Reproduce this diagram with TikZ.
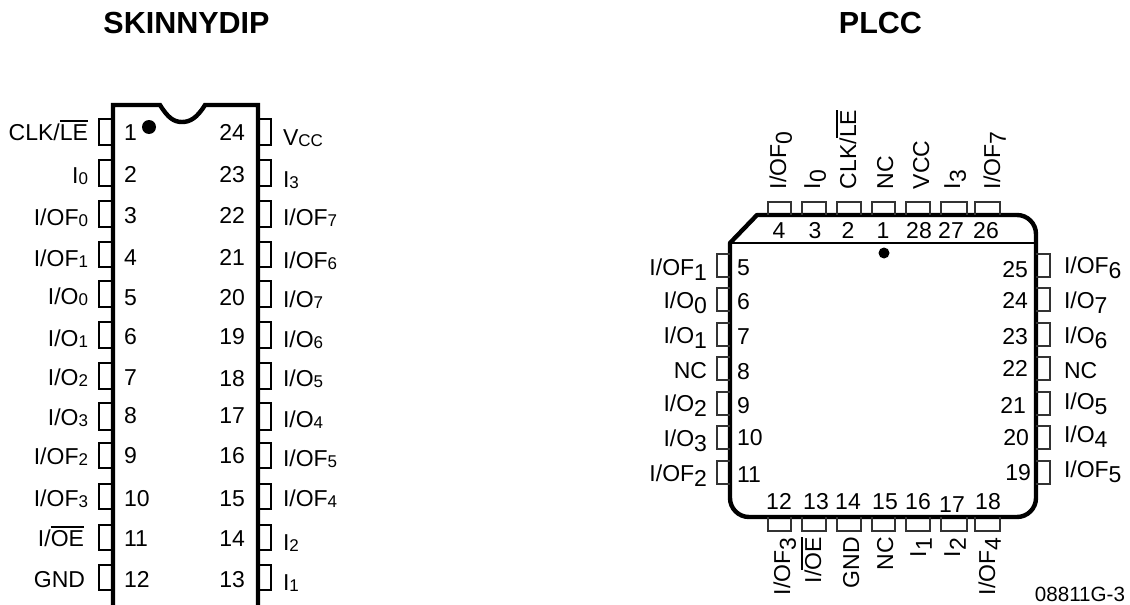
\documentclass[tikz,border=0pt]{standalone}
\usepackage{fontspec}
\setmainfont{Liberation Sans}
\newcommand{\ovl}[1]{\setbox0=\hbox{#1}\rlap{\rule[0.79em]{\wd0}{0.07em}}\box0}
\newcommand{\sba}[1]{\raisebox{-0.06em}{\fontsize{17}{20}\selectfont #1}}
\newcommand{\sbb}[1]{\raisebox{-0.25em}{\fontsize{23}{26}\selectfont #1}}
\tikzset{
  txt/.style={inner sep=0pt,outer sep=0pt,font=\fontsize{23}{27}\selectfont},
  title/.style={inner sep=0pt,outer sep=0pt,font=\bfseries\fontsize{30.5}{36}\selectfont},
  body/.style={line width=4.4pt,line join=miter},
  thinbody/.style={line width=1.6pt},
  pindip/.style={line width=2pt,draw=black},
  pin/.style={line width=1.2pt,draw=black!80}
}
\begin{document}
\begin{tikzpicture}[x=1pt,y=-1pt]
\useasboundingbox (0,0) rectangle (1130,605);
\node[title,anchor=base] (t1) at (186.5,34) {SKINNYDIP};
\node[title,anchor=base] (t2) at (880.5,34) {PLCC};
% DIP body
\draw[body] (113,605) -- (113,105) -- (160,105) .. controls (168,118) and (174,122) .. (182,122) .. controls (190,122) and (197,118) .. (205,105) -- (258,105) -- (258,605);
\fill (149,127) circle (7);
% DIP pins
\foreach \i/\a/\b in {1/119/145,2/160/186,3/201/227,4/242/267,5/281/307,6/322/348,7/363/389,8/403/430,9/443/468,10/484/509,11/525/550,12/565/590}{
  \draw[pindip] (113,\a) -- (99,\a) -- (99,\b) -- (113,\b);
  \draw[pindip] (258,\a) -- (271,\a) -- (271,\b) -- (258,\b);
}
% DIP numbers
\foreach \n/\y in {1/140,2/182,3/223,4/265,5/305,6/344,7/385,8/423,9/463,10/506,11/546,12/587}{
  \node[txt,anchor=base west] (dl\n) at (124,\y) {\n};
}
\foreach \n/\y in {24/140,23/182,22/223,21/265,20/305,19/344,18/386,17/423,16/463,15/506,14/546,13/587}{
  \node[txt,anchor=base east] (dr\n) at (245,\y) {\n};
}
% DIP labels left
\node[txt,anchor=base east] (a1) at (88,140) {CLK/\ovl{LE}};
\node[txt,anchor=base east] (a2) at (88,183) {I\sba{0}};
\node[txt,anchor=base east] (a3) at (88,225) {I/OF\sba{0}};
\node[txt,anchor=base east] (a4) at (88,266) {I/OF\sba{1}};
\node[txt,anchor=base east] (a5) at (88,304) {I/O\sba{0}};
\node[txt,anchor=base east] (a6) at (88,346) {I/O\sba{1}};
\node[txt,anchor=base east] (a7) at (88,385) {I/O\sba{2}};
\node[txt,anchor=base east] (a8) at (88,425) {I/O\sba{3}};
\node[txt,anchor=base east] (a9) at (88,464) {I/OF\sba{2}};
\node[txt,anchor=base east] (a10) at (88,506) {I/OF\sba{3}};
\node[txt,anchor=base east] (a11) at (84,546) {I/\ovl{OE}};
\node[txt,anchor=base east] (a12) at (85,587) {GND};
% DIP labels right
\node[txt,anchor=base west] (b24) at (283,145) {V\sba{CC}};
\node[txt,anchor=base west] (b23) at (283,187) {I\sba{3}};
\node[txt,anchor=base west] (b22) at (283,225) {I/OF\sba{7}};
\node[txt,anchor=base west] (b21) at (283,268) {I/OF\sba{6}};
\node[txt,anchor=base west] (b20) at (283,307) {I/O\sba{7}};
\node[txt,anchor=base west] (b19) at (283,347) {I/O\sba{6}};
\node[txt,anchor=base west] (b18) at (283,386) {I/O\sba{5}};
\node[txt,anchor=base west] (b17) at (283,427) {I/O\sba{4}};
\node[txt,anchor=base west] (b16) at (283,466) {I/OF\sba{5}};
\node[txt,anchor=base west] (b15) at (283,506) {I/OF\sba{4}};
\node[txt,anchor=base west] (b14) at (283,550) {I\sba{2}};
\node[txt,anchor=base west] (b13) at (283,590) {I\sba{1}};
% PLCC body
\draw[body,line join=round] (757,215) -- (1017,215) arc[start angle=-90,end angle=0,radius=19] -- (1036,498) arc[start angle=0,end angle=90,radius=19] -- (749,517) arc[start angle=90,end angle=180,radius=19] -- (730,243) -- cycle;
\draw[thinbody] (730,243) -- (1036,243);
\fill (884,253) circle (5.5);
% PLCC pins
\foreach \a/\b in {768/791,802/826,837/861,872/895,906/930,941/967,975/1000}{
  \draw[pin] (\a,215) -- (\a,202) -- (\b,202) -- (\b,215);
  \draw[pin] (\a,517) -- (\a,531) -- (\b,531) -- (\b,517);
}
\foreach \a/\b in {254/277,288/311,323/346,357/380,392/415,426/449,461/484}{
  \draw[pin] (730,\a) -- (717,\a) -- (717,\b) -- (730,\b);
  \draw[pin] (1036,\a) -- (1050,\a) -- (1050,\b) -- (1036,\b);
}
% PLCC numbers
\foreach \n/\x in {4/779,3/815,2/848,1/883,28/919,27/951,26/986}{
  \node[txt,anchor=base] (pt\n) at (\x,238) {\n};
}
\foreach \n/\x/\y in {12/779/509,13/816/509,14/848/509,15/885/509,16/918/509,17/952/512,18/988/509}{
  \node[txt,anchor=base] (pb\n) at (\x,\y) {\n};
}
\foreach \n/\y in {5/275,6/309,7/344,8/379,9/413,10/445,11/482}{
  \node[txt,anchor=base west] (pl\n) at (737,\y) {\n};
}
\foreach \n/\x/\y in {25/1028/277,24/1028/308,23/1028/344,22/1028/376,21/1026/413,20/1029/445,19/1031/480}{
  \node[txt,anchor=base east] (pr\n) at (\x,\y) {\n};
}
% PLCC left labels
\node[txt,anchor=base east] (c5) at (707,275) {I/OF\sbb{1}};
\node[txt,anchor=base east] (c6) at (707,308) {I/O\sbb{0}};
\node[txt,anchor=base east] (c7) at (707,343) {I/O\sbb{1}};
\node[txt,anchor=base east] (c8) at (707,378) {NC};
\node[txt,anchor=base east] (c9) at (707,411) {I/O\sbb{2}};
\node[txt,anchor=base east] (c10) at (707,446) {I/O\sbb{3}};
\node[txt,anchor=base east] (c11) at (707,481) {I/OF\sbb{2}};
% PLCC right labels
\node[txt,anchor=base west] (d25) at (1064,273) {I/OF\sbb{6}};
\node[txt,anchor=base west] (d24) at (1064,308) {I/O\sbb{7}};
\node[txt,anchor=base west] (d23) at (1064,343) {I/O\sbb{6}};
\node[txt,anchor=base west] (d22) at (1064,378) {NC};
\node[txt,anchor=base west] (d21) at (1064,409) {I/O\sbb{5}};
\node[txt,anchor=base west] (d20) at (1064,442) {I/O\sbb{4}};
\node[txt,anchor=base west] (d19) at (1064,477) {I/OF\sbb{5}};
% PLCC top labels
\node[txt,rotate=90,anchor=base west] (e4) at (786,189) {I/OF\sbb{0}};
\node[txt,rotate=90,anchor=base west] (e3) at (820,189) {I\sbb{0}};
\node[txt,rotate=90,anchor=base west] (e2) at (856,189) {CLK/\ovl{LE}};
\node[txt,rotate=90,anchor=base west] (e1) at (893,189) {NC};
\node[txt,rotate=90,anchor=base west] (e28) at (929,189) {VCC};
\node[txt,rotate=90,anchor=base west] (e27) at (960,189) {I\sbb{3}};
\node[txt,rotate=90,anchor=base west] (e26) at (1000,189) {I/OF\sbb{7}};
% PLCC bottom labels
\node[txt,rotate=90,anchor=base west] (f12) at (790,595) {I/OF\sbb{3}};
\node[txt,rotate=90,anchor=base west] (f13) at (821,583) {I/\ovl{OE}};
\node[txt,rotate=90,anchor=base west] (f14) at (859,588) {GND};
\node[txt,rotate=90,anchor=base west] (f15) at (893,570) {NC};
\node[txt,rotate=90,anchor=base west] (f16) at (926,557) {I\sbb{1}};
\node[txt,rotate=90,anchor=base west] (f17) at (960,557) {I\sbb{2}};
\node[txt,rotate=90,anchor=base west] (f18) at (995,595) {I/OF\sbb{4}};
\node[txt,anchor=base east,font=\fontsize{20.6}{24}\selectfont] (ref) at (1125,601) {08811G-3};
\end{tikzpicture}
\end{document}
